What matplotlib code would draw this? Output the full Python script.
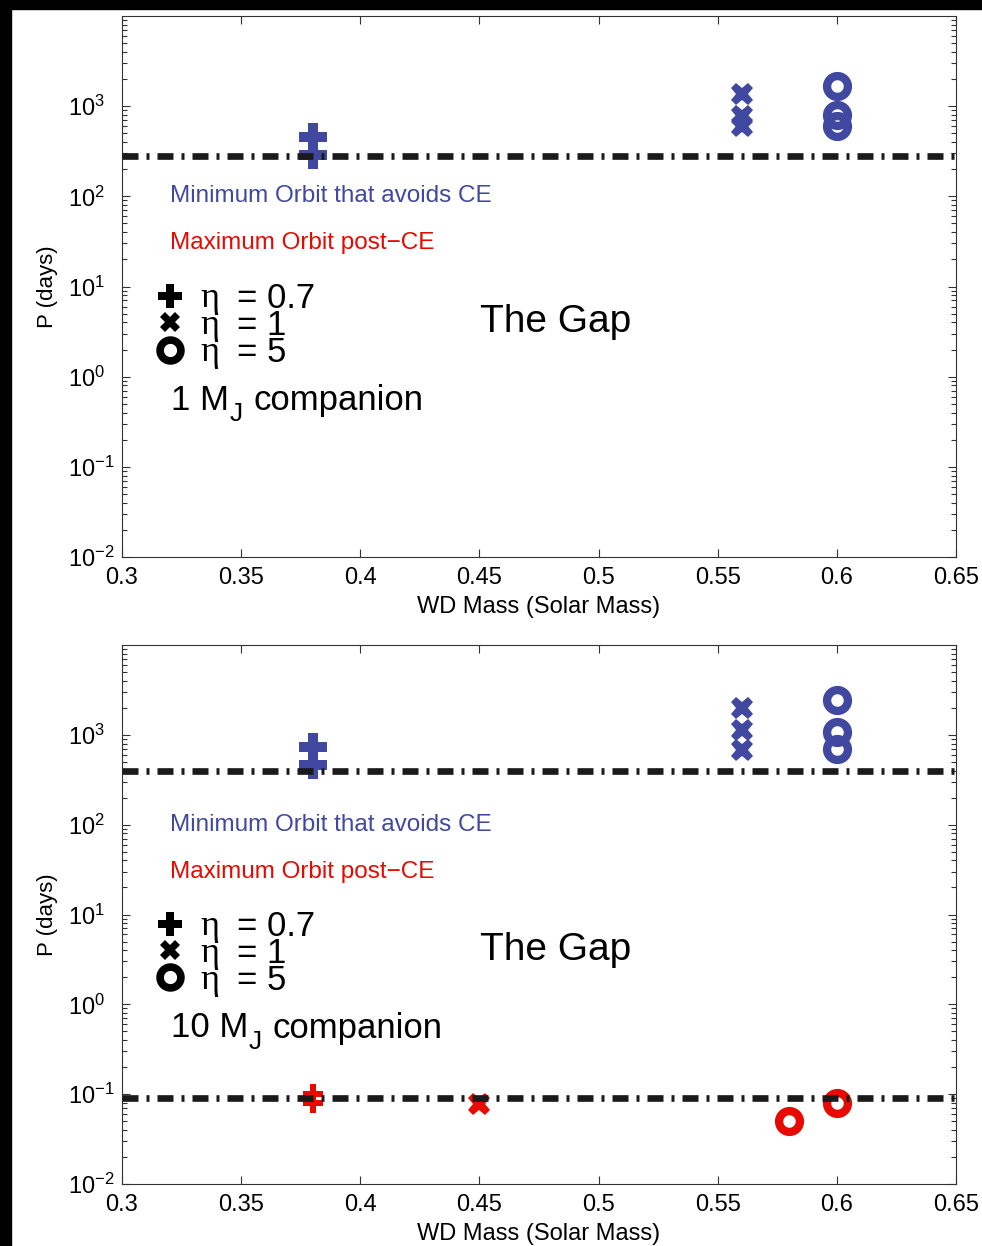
import math
import matplotlib
matplotlib.use('Agg')
import matplotlib.pyplot as plt
from matplotlib.patches import Rectangle
from matplotlib.ticker import LogLocator, NullFormatter, FixedLocator

plt.rcParams['font.family'] = ['Liberation Sans', 'DejaVu Sans']
plt.rcParams['mathtext.fontset'] = 'custom'
plt.rcParams['mathtext.rm'] = 'Liberation Sans'
plt.rcParams['mathtext.default'] = 'regular'

# ----------------------------
# Data (periods in days)
# ----------------------------
x_ticks = [0.3, 0.35, 0.4, 0.45, 0.5, 0.55, 0.6, 0.65]
y_ticks = [1e-2, 1e-1, 1e0, 1e1, 1e2, 1e3]

# 1 MJ companion
top_min_orbit = 280
top_plus_x = [0.38, 0.38]
top_plus_p = [450, 290]
top_cross_x = [0.56, 0.56, 0.56]
top_cross_p = [1360, 770, 600]
top_circle_x = [0.6, 0.6, 0.6]
top_circle_p = [1670, 800, 600]

# 10 MJ companion
bot_min_orbit = 400
bot_max_orbit = 0.09
bot_plus_x = [0.38, 0.38]
bot_plus_p = [740, 460]
bot_cross_x = [0.56, 0.56, 0.56]
bot_cross_p = [2000, 1130, 680]
bot_circle_x = [0.6, 0.6, 0.6]
bot_circle_p = [2450, 1080, 690]
red_plus_x = [0.38, 0.38]
red_plus_p = [0.1, 0.08]
red_cross_x = [0.45]
red_cross_p = [0.078]
red_circle_x = [0.58, 0.6]
red_circle_p = [0.05, 0.079]

eta_values = ['0.7', '1', '5']

BLUE = '#40489f'
RED = '#e60a00'
DASH = (0, (2.4, 1.2, 0.45, 1.2))


def style_axes(ax):
    ax.set_xlim(0.3, 0.65)
    ax.set_yscale('log')
    ax.set_ylim(1e-2, 1e4)
    ax.xaxis.set_major_locator(FixedLocator(x_ticks))
    ax.set_xticklabels([f'{t:g}' for t in x_ticks])
    ax.yaxis.set_major_locator(FixedLocator(y_ticks))
    ax.set_yticklabels([f'$10^{{{int(round(math.log10(t)))}}}$' for t in y_ticks])
    ax.yaxis.set_minor_locator(LogLocator(base=10, subs=range(2, 10), numticks=20))
    ax.yaxis.set_minor_formatter(NullFormatter())
    ax.tick_params(which='both', direction='in', top=True, right=True,
                   color='#333333', width=0.8)
    ax.tick_params(which='major', length=6, labelsize=17, pad=7)
    # MATLAB-style: the "10" of every label starts at the same x
    ax.tick_params(axis='y', which='major', pad=39)
    for lab in ax.get_yticklabels():
        lab.set_horizontalalignment('left')
    ax.tick_params(which='minor', length=3.5)
    for s in ax.spines.values():
        s.set_color('#333333')
        s.set_linewidth(0.8)
    ax.set_xlabel('WD Mass (Solar Mass)', fontsize=17, labelpad=5)
    ax.set_ylabel('P (days)', fontsize=16, labelpad=7)


def annotate(ax, n_mj):
    ax.text(0.3201, 100, 'Minimum Orbit that avoids CE', color=BLUE,
            fontsize=17.5, va='center', ha='left')
    ax.text(0.3201, 30, 'Maximum Orbit post\u2212CE', color=RED,
            fontsize=17.5, va='center', ha='left')
    rows = [('P', 7.9, 17, 0), ('X', 4.0, 14, 0), ('o', 2.0, 15, 5.5)]
    for (mk, yv, ms, mew), lab in zip(rows, eta_values):
        if mk == 'o':
            ax.plot([0.3201], [yv], marker='o', ms=ms, mfc='none', mec='black',
                    mew=mew, ls='none', clip_on=False)
        else:
            ax.plot([0.3201], [yv], marker=mk, ms=ms, color='black', mew=0,
                    ls='none', clip_on=False)
        ty = yv * 10 ** -0.035
        ax.text(0.3330, ty, '\u03b7', fontsize=26, va='center', ha='left',
                family=['Liberation Serif', 'DejaVu Serif'])
        ax.text(0.3483, ty, '= ' + lab, fontsize=25, va='center', ha='left')
    # "N M_J companion" with a low, large subscript J
    t1 = ax.text(0.3207, 0.55, f'{n_mj} M', fontsize=25, va='center', ha='left')
    t2 = ax.annotate('J', xy=(1, 0), xycoords=t1, xytext=(0, -7),
                     textcoords='offset points', fontsize=19, va='bottom', ha='left')
    ax.annotate('companion', xy=(1, 0), xycoords=t2, xytext=(8, 6.5),
                textcoords='offset points', fontsize=25, va='bottom', ha='left')
    ax.text(0.4502, 4.0, 'The Gap', fontsize=28, va='center', ha='left')


def draw_markers(ax, color, px, pp, cx, cp, ox, op, small=False):
    if px:
        ax.plot(px, pp, ls='none', marker='P', ms=14 if small else 20,
                color=color, mew=0, zorder=2)
    if cx:
        ax.plot(cx, cp, ls='none', marker='X', ms=16, color=color, mew=0, zorder=2)
    if ox:
        ax.plot(ox, op, ls='none', marker='o', ms=15, mfc='none', mec=color,
                mew=6, zorder=2)


fig = plt.figure(figsize=(9.82, 12.46), dpi=100)
fig.patches.append(Rectangle((0, 1 - 9 / 1246), 1, 9 / 1246, transform=fig.transFigure,
                             color='black', zorder=-1))
fig.patches.append(Rectangle((0, 0), 11 / 982, 1, transform=fig.transFigure,
                             color='black', zorder=-1))

ax1 = fig.add_axes([122 / 982, 1 - 557 / 1246, 834 / 982, 541 / 1246])
ax2 = fig.add_axes([122 / 982, 1 - 1184 / 1246, 834 / 982, 539 / 1246])

# ----------------------------
# Top panel: 1 MJ
# ----------------------------
style_axes(ax1)
draw_markers(ax1, BLUE, top_plus_x, top_plus_p, top_cross_x, top_cross_p,
             top_circle_x, top_circle_p)
ax1.axhline(top_min_orbit, color='#1a1a1a', lw=4.8, ls=DASH,
            dash_capstyle='butt', zorder=3)
annotate(ax1, 1)

# ----------------------------
# Bottom panel: 10 MJ
# ----------------------------
style_axes(ax2)
draw_markers(ax2, BLUE, bot_plus_x, bot_plus_p, bot_cross_x, bot_cross_p,
             bot_circle_x, bot_circle_p)
draw_markers(ax2, RED, red_plus_x, red_plus_p, red_cross_x, red_cross_p,
             red_circle_x, red_circle_p, small=True)
for level in (bot_min_orbit, bot_max_orbit):
    ax2.axhline(level, color='#1a1a1a', lw=4.8, ls=DASH,
                dash_capstyle='butt', zorder=3)
annotate(ax2, 10)

fig.savefig('out.png', dpi=100)
